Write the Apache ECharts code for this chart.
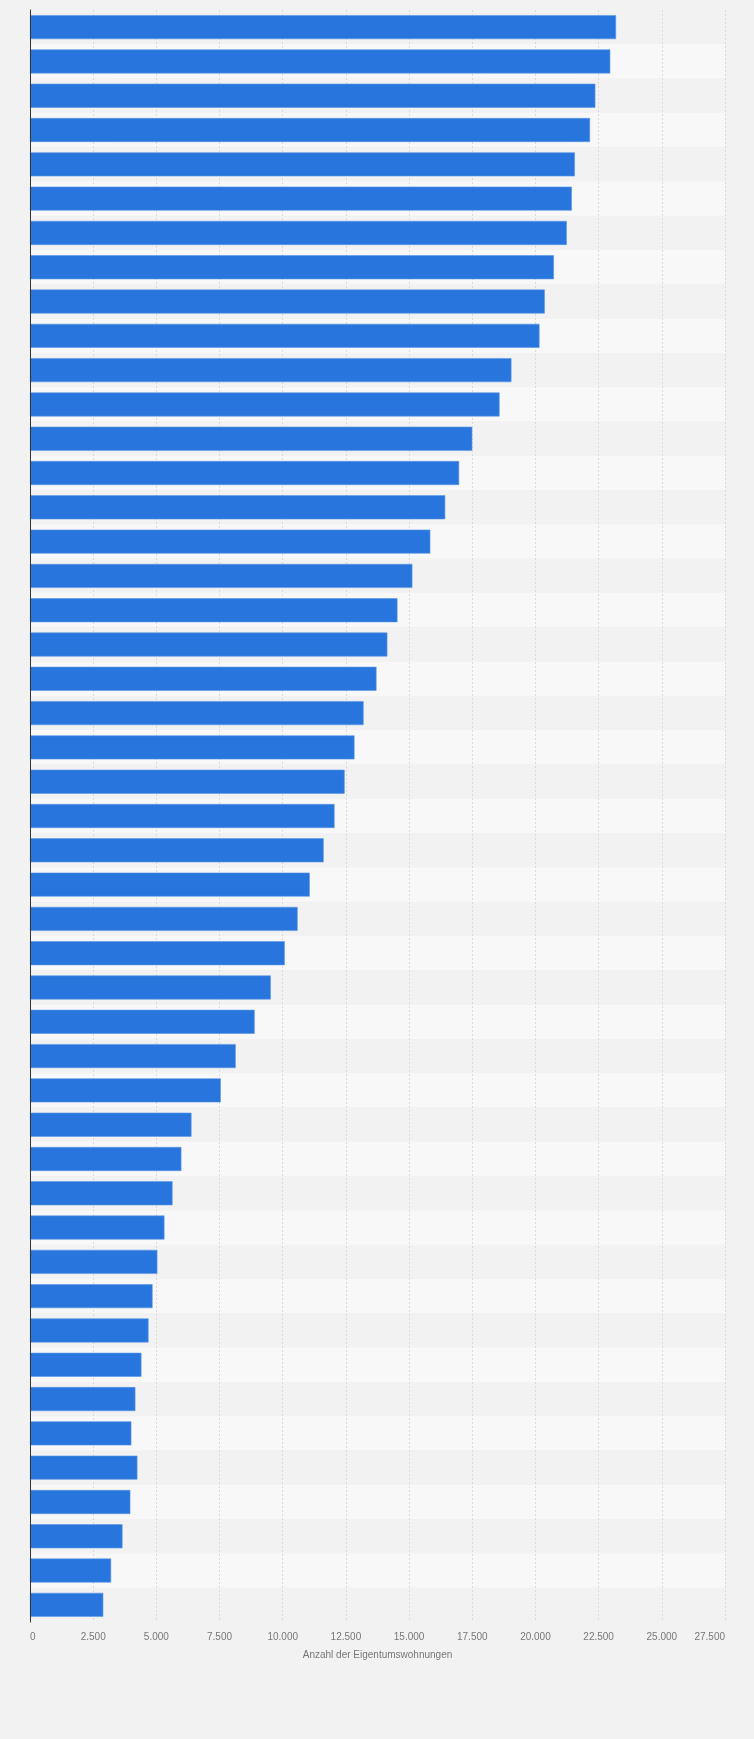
<!DOCTYPE html>
<html>
<head>
<meta charset="utf-8">
<script src="https://cdn.jsdelivr.net/npm/echarts@6/dist/echarts.min.js"></script>
<style>
  html, body { margin: 0; padding: 0; background: #f2f2f2; }
  #chart { width: 754px; height: 1739px; }
</style>
</head>
<body>
<div id="chart"></div>
<script>
// Rangfolge (von oben nach unten), Beschriftungen im Original ausgeblendet
var categories = [];
for (var i = 1; i <= 47; i++) categories.push('Rang ' + i);

var values = [
  23190, 22960, 22370, 22160, 21560, 21440, 21240, 20730, 20370, 20160,
  19050, 18580, 17500, 16980, 16430, 15840, 15130, 14540, 14140, 13710,
  13200, 12840, 12450, 12050, 11620, 11070, 10590, 10080, 9530, 8890,
  8140, 7550, 6390, 5990, 5640, 5320, 5040, 4850, 4690, 4410,
  4170, 4010, 4250, 3970, 3660, 3210, 2900
];

var xMin = 0, xMax = 27500, xStep = 2500;
var xName = 'Anzahl der Eigentumswohnungen';

function deNum(v) {
  return String(v).replace(/\B(?=(\d{3})+(?!\d))/g, '.');
}

var chart = echarts.init(document.getElementById('chart'), null, { renderer: 'canvas' });

var option = {
  backgroundColor: '#f2f2f2',
  animation: false,
  grid: { left: 30, right: 29, top: 10, bottom: 117, containLabel: false },
  xAxis: {
    type: 'value',
    min: xMin,
    max: xMax,
    interval: xStep,
    name: xName,
    nameLocation: 'middle',
    nameGap: 28,
    nameTextStyle: { color: '#777', fontSize: 10, fontFamily: 'Liberation Sans' },
    axisLine: { show: false },
    axisTick: { show: false },
    axisLabel: {
      color: '#777',
      fontSize: 10,
      fontFamily: 'Liberation Sans',
      margin: 10,
      alignMinLabel: 'left',
      alignMaxLabel: 'right',
      formatter: deNum
    },
    splitLine: { show: true, lineStyle: { color: '#dadada', type: [2, 2], width: 1 } }
  },
  yAxis: [{
    type: 'category',
    data: categories,
    inverse: true,
    axisLine: { show: false },
    axisTick: { show: false },
    axisLabel: { show: false },
    splitLine: { show: false },
    splitArea: { show: true, areaStyle: { color: ['#f2f2f2', '#f8f8f8'] } }
  }, {
    // nur die Achsenlinie, über den Balken gezeichnet
    type: 'category',
    data: categories,
    inverse: true,
    position: 'left',
    z: 5,
    axisLine: { show: true, lineStyle: { color: '#333', width: 1 } },
    axisTick: { show: false },
    axisLabel: { show: false },
    splitLine: { show: false },
    splitArea: { show: false }
  }],
  series: [{
    type: 'bar',
    data: values,
    barCategoryGap: '30%',
    itemStyle: { color: '#2876dd', borderColor: '#5b97e6', borderWidth: 0.6 }
  }]
};

chart.setOption(option);
</script>
</body>
</html>
